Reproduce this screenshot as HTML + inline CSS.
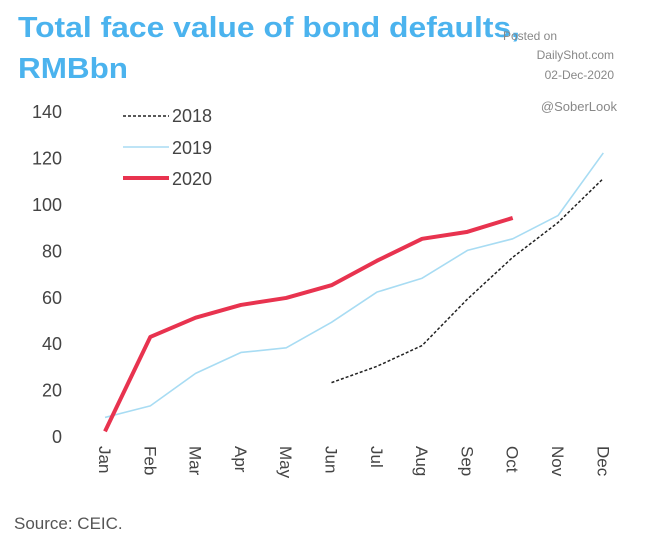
<!DOCTYPE html>
<html><head><meta charset="utf-8"><style>
body{margin:0;background:#fff;width:649px;height:540px;overflow:hidden;font-family:"Liberation Sans",sans-serif}
svg{position:absolute;left:0;top:0}
</style></head><body>
<svg id="c" width="649" height="540">
<text x="18" y="37" font-size="29" font-weight="bold" fill="#4bb3ee" textLength="502" lengthAdjust="spacingAndGlyphs">Total face value of bond defaults,</text>
<text x="18" y="78" font-size="29" font-weight="bold" fill="#4bb3ee" textLength="110" lengthAdjust="spacingAndGlyphs">RMBbn</text>
<g font-size="12" fill="#888" text-anchor="end">
<text x="557" y="40">Posted on</text>
<text x="614" y="59">DailyShot.com</text>
<text x="614" y="79">02-Dec-2020</text>
<text x="617" y="111" font-size="13">@SoberLook</text>
</g>
<g id="yaxis"></g>
<g id="xaxis"></g>
<g id="series"></g>
<g font-size="18" fill="#444">
<g><line x1="123" y1="116" x2="169" y2="116" stroke="#222" stroke-width="1.5" stroke-dasharray="3,2"/><text x="172" y="122">2018</text></g>
<g><line x1="123" y1="147" x2="169" y2="147" stroke="#a8dcf3" stroke-width="1.5"/><text x="172" y="154">2019</text></g>
<g><line x1="123" y1="178" x2="169" y2="178" stroke="#e8334f" stroke-width="4"/><text x="172" y="185">2020</text></g>
</g>
<text x="14" y="529" font-size="17" fill="#555">Source: CEIC.</text>
</svg>
<script>
const months=["Jan","Feb","Mar","Apr","May","Jun","Jul","Aug","Sep","Oct","Nov","Dec"];
const yTicks=[0,20,40,60,80,100,120,140];
const s2018=[null,null,null,null,null,23,30,39,59,77,92,111];
const s2019=[8,13,27,36,38,49,62,68,80,85,95,122];
const s2020=[2,42.7,51,56.5,59.5,65,75.5,85,88,94,null,null];
const NS="http://www.w3.org/2000/svg";
const x=i=>105+i*45.3;
const y=v=>436-v*2.32;
function mk(t,a,p){const e=document.createElementNS(NS,t);for(const k in a)e.setAttribute(k,a[k]);p.appendChild(e);return e;}
const ya=document.getElementById('yaxis');
yTicks.forEach(v=>{const t=mk('text',{x:62,y:y(v)+7,'text-anchor':'end','font-size':18,fill:'#444'},ya);


t.textContent=v;});
const xa=document.getElementById('xaxis');
months.forEach((m,i)=>{const t=mk('text',{transform:`translate(${x(i)-6},446) rotate(90)`,'font-size':17,fill:'#444'},xa);


t.textContent=m;});
const sg=document.getElementById('series');
function line(data,style,name){let d='';data.forEach((v,i)=>{if(v==null)return;d+=(d?'L':'M')+x(i)+','+y(v);});
const p=mk('path',Object.assign({d:d,fill:'none','stroke-linejoin':'round'},style),sg);

}
line(s2019,{stroke:'#a8dcf3','stroke-width':1.6},'line-2019');
line(s2018,{stroke:'#222','stroke-width':1.5,'stroke-dasharray':'3,2'},'line-2018');
line(s2020,{stroke:'#e8334f','stroke-width':4},'line-2020');
</script>
</body></html>
